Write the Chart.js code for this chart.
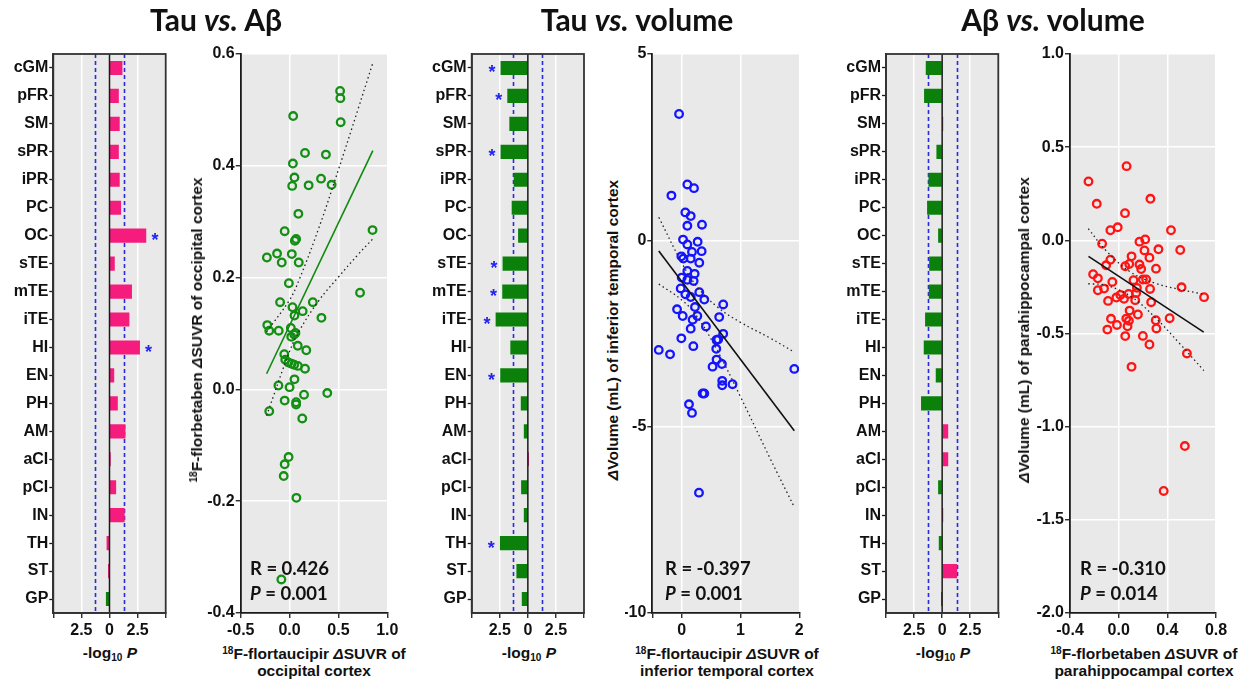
<!DOCTYPE html>
<html><head><meta charset="utf-8">
<script src="https://cdn.jsdelivr.net/npm/chart.js"></script>
<style>
body{margin:0;background:#fff;width:1251px;height:683px;overflow:hidden;position:relative;font-family:'Liberation Sans',Arial,sans-serif;}
canvas{position:absolute;top:0;}
.t{position:absolute;font-weight:bold;white-space:nowrap;color:#111;}
.title{font-family:Lato,'Open Sans',sans-serif;font-size:30px;line-height:34px;top:2px;transform:translateX(-50%);}
.yl{font-size:15.5px;transform:translate(-50%,-50%) rotate(-90deg);}
.xl{font-size:15.5px;line-height:17px;transform:translateX(-50%);text-align:center;}
.rp{font-family:Lato,'Open Sans',sans-serif;font-size:18.5px;line-height:25px;}
sup{font-size:0.65em;vertical-align:0.5em;line-height:0;}
sub{font-size:0.65em;vertical-align:-0.25em;line-height:0;}
</style></head>
<body>
<canvas id="c1"></canvas><canvas id="c2"></canvas><canvas id="c3"></canvas>
<canvas id="c4"></canvas><canvas id="c5"></canvas><canvas id="c6"></canvas>

<div class="t title" style="left:216px">Tau <i>vs.</i> Aβ</div>
<div class="t title" style="left:637px">Tau <i>vs.</i> volume</div>
<div class="t title" style="left:1053px">Aβ <i>vs.</i> volume</div>

<div class="t yl" style="left:197px;top:330px"><sup>18</sup>F-florbetaben <i>Δ</i>SUVR of occipital cortex</div>
<div class="t yl" style="left:613px;top:330px"><i>Δ</i>Volume (mL) of inferior temporal cortex</div>
<div class="t yl" style="left:1024px;top:330px"><i>Δ</i>Volume (mL) of parahippocampal cortex</div>

<div class="t xl" style="left:314px;top:645px"><sup>18</sup>F-flortaucipir <i>Δ</i>SUVR of<br>occipital cortex</div>
<div class="t xl" style="left:727px;top:645px"><sup>18</sup>F-flortaucipir <i>Δ</i>SUVR of<br>inferior temporal cortex</div>
<div class="t xl" style="left:1144px;top:645px"><sup>18</sup>F-florbetaben <i>Δ</i>SUVR of<br>parahippocampal cortex</div>

<div class="t xl" style="left:110px;top:644px">-log<sub>10</sub> <i>P</i></div>
<div class="t xl" style="left:529px;top:644px">-log<sub>10</sub> <i>P</i></div>
<div class="t xl" style="left:943px;top:644px">-log<sub>10</sub> <i>P</i></div>

<div class="t rp" style="left:250px;top:556px">R = 0.426<br><i>P</i> = 0.001</div>
<div class="t rp" style="left:665px;top:556px">R = -0.397<br><i>P</i> = 0.001</div>
<div class="t rp" style="left:1080px;top:556px">R = -0.310<br><i>P</i> = 0.014</div>

<script>
// ---------- DATA ----------
const regions = ['cGM','pFR','SM','sPR','iPR','PC','OC','sTE','mTE','iTE','HI','EN','PH','AM','aCI','pCI','IN','TH','ST','GP'];
const barTickValues = [-5, -2.5, 0, 2.5, 5];
const barTickLabels = ['', '2.5', '0', '2.5', ''];
const sigThreshold = 1.3;

// Tau vs. Abeta (signed -log10 P), colour group, significance flag
const tauAbLogP = [1.12,0.80,0.88,0.80,0.88,1.00,3.24,0.44,1.97,1.74,2.68,0.39,0.71,1.39,0.08,0.56,1.32,-0.23,-0.10,-0.29];
const tauAbGroup = ['pos','pos','pos','pos','pos','pos','pos','pos','pos','pos','pos','pos','pos','pos','pos','pos','pos','pos','pos','neg'];
const tauAbSig = [0,0,0,0,0,0,1,0,0,0,1,0,0,0,0,0,0,0,0,0];

// Tau vs. volume
const tauVolLogP = [-2.40,-1.80,-1.62,-2.40,-1.23,-1.41,-0.84,-2.22,-2.25,-2.84,-1.53,-2.43,-0.60,-0.33,0.02,-0.57,-0.33,-2.46,-0.99,-0.51];
const tauVolGroup = ['neg','neg','neg','neg','neg','neg','neg','neg','neg','neg','neg','neg','neg','neg','pos','neg','neg','neg','neg','neg'];
const tauVolSig = [1,1,0,1,0,0,0,1,1,1,0,1,0,0,0,0,0,1,0,0];

// Abeta vs. volume
const abVolLogP = [-1.43,-1.58,0.03,-0.48,-1.19,-1.31,-0.33,-1.13,-1.16,-1.49,-1.61,-0.54,-1.85,0.51,0.51,-0.33,0.03,-0.27,1.31,-0.03];
const abVolGroup = ['neg','neg','pos','neg','neg','neg','neg','neg','neg','neg','neg','neg','neg','pos','pos','neg','pos','neg','pos','neg'];
const abVolSig = [0,0,0,0,0,0,0,0,0,0,0,0,0,0,0,0,0,0,0,0];

// Scatter 1: flortaucipir dSUVR OC (x) vs florbetaben dSUVR OC (y)
const ocTauX = [0.517,0.52,0.037,0.523,0.158,0.372,0.034,0.05,0.322,0.027,0.195,0.43,0.09,-0.05,0.849,0.067,0.054,-0.232,-0.128,0.023,-0.08,0.094,-0.007,0.721,-0.097,0.03,0.238,0.134,0.05,0.326,-0.228,-0.208,-0.111,0.013,0.017,0.06,0.047,0.084,0.171,-0.054,-0.044,-0.012,0.02,0.047,0.085,0.158,0.05,-0.114,0.0,-0.05,0.067,0.067,0.148,0.386,0.13,-0.208,-0.01,-0.05,-0.06,0.07,-0.084];
const ocAbY = [0.534,0.521,0.489,0.478,0.423,0.42,0.404,0.379,0.377,0.364,0.365,0.366,0.314,0.283,0.285,0.269,0.266,0.236,0.243,0.242,0.227,0.227,0.19,0.173,0.156,0.147,0.156,0.14,0.132,0.128,0.115,0.105,0.105,0.11,0.094,0.101,0.098,0.078,0.07,0.063,0.053,0.048,0.046,0.044,0.042,0.037,0.018,0.007,0.004,-0.02,-0.023,-0.027,-0.0095,-0.0065,-0.052,-0.039,-0.121,-0.134,-0.155,-0.194,-0.34];
const ocFitX = [-0.235, 0.852];
const ocFitY = [0.028, 0.427];
const ocBandX = [-0.235, 0, 0.1, 0.3, 0.5, 0.7, 0.85];
const ocBandUp = [0.103, 0.16, 0.197, 0.289, 0.393, 0.501, 0.583];
const ocBandLo = [-0.047, 0.068, 0.105, 0.159, 0.201, 0.241, 0.269];
const ocXTicks = [-0.5, 0, 0.5, 1.0];
const ocYTicks = [-0.4, -0.2, 0, 0.2, 0.4, 0.6];

// Scatter 2: flortaucipir dSUVR iTE (x) vs dVolume iTE (y)
const iteTauX = [-0.045,0.096,0.209,-0.175,0.062,0.153,0.096,0.345,0.023,0.096,0.271,0.339,-0.006,0.028,0.175,0.153,0.299,0.096,0.22,0,0.096,0.203,-0.017,0.062,0.153,0.299,0.384,0.706,-0.079,0.017,0.226,0.266,0.186,0.638,0.412,0.153,0.706,-0.006,0.593,0.62,0.198,-0.39,-0.198,0.588,0.593,0.684,0.525,1.915,0.689,0.689,0.864,0.356,0.384,0.124,0.175,0.294];
const iteVolY = [3.39,1.5,1.4,1.2,0.75,0.65,0.39,0.42,0.02,-0.11,-0.04,-0.29,-0.43,-0.49,-0.31,-0.49,-0.6,-0.82,-0.9,-1.0,-1.06,-1.09,-1.29,-1.45,-1.52,-1.39,-1.59,-1.72,-1.85,-2.03,-1.79,-2.03,-2.13,-2.06,-2.31,-2.37,-2.51,-2.63,-2.67,-2.66,-2.84,-2.94,-3.06,-2.91,-3.2,-3.32,-3.39,-3.45,-3.77,-3.89,-3.86,-4.11,-4.11,-4.4,-4.63,-6.77];
const iteFitX = [-0.39, 1.915];
const iteFitY = [-0.287, -5.11];
const iteBandX = [-0.39, 0, 0.25, 0.6, 1.0, 1.5, 1.915];
const iteBandUp = [0.62, -0.6, -1.22, -1.78, -2.2, -2.62, -3.0];
const iteBandLo = [-1.17, -1.6, -2.02, -2.94, -4.2, -5.84, -7.16];
const iteXTicks = [-0.5, 0, 1, 2];
const iteXLabels = ['', '0', '1', '2'];
const iteYTicks = [-10, -5, 0, 5];

// Scatter 3: florbetaben dSUVR PH (x) vs dVolume PH (y)
const phAbX = [0.065,-0.248,-0.18,0.261,0.052,-0.008,-0.068,0.43,0.506,-0.136,0.171,0.218,0.212,0.327,0.253,0.106,-0.068,-0.103,0.054,0.087,0.171,0.185,0.307,-0.21,-0.171,-0.052,0.122,0.199,0.226,-0.171,-0.12,0.258,0.517,0.702,0.15,0.082,0.014,-0.019,0.044,0.144,0.136,-0.087,0.267,0.09,0.158,-0.063,0.063,0.084,0.305,0.419,-0.014,0.31,-0.093,0.073,0.054,0.199,0.253,0.561,0.106,0.544,0.37];
const phVolY = [0.398,0.316,0.196,0.223,0.146,0.07,0.054,0.054,-0.052,-0.018,-0.007,0.005,-0.054,-0.048,-0.093,-0.086,-0.104,-0.134,-0.139,-0.127,-0.13,-0.154,-0.152,-0.182,-0.204,-0.223,-0.214,-0.21,-0.21,-0.268,-0.259,-0.261,-0.252,-0.305,-0.255,-0.288,-0.293,-0.307,-0.314,-0.282,-0.321,-0.325,-0.332,-0.377,-0.398,-0.421,-0.42,-0.432,-0.429,-0.418,-0.454,-0.473,-0.479,-0.461,-0.514,-0.513,-0.559,-0.607,-0.679,-1.104,-1.345];
const phFitX = [-0.248, 0.699];
const phFitY = [-0.086, -0.493];
const phBandX = [-0.25, -0.1, 0.1, 0.3, 0.5, 0.7];
const phBandUp = [0.063, -0.058, -0.171, -0.23, -0.263, -0.289];
const phBandLo = [-0.233, -0.242, -0.301, -0.414, -0.553, -0.699];
const phXTicks = [-0.4, 0, 0.4, 0.8];
const phYTicks = [-2.0, -1.5, -1.0, -0.5, 0, 0.5, 1.0];

// ---------- STYLE ----------
const PINK = '#f51c7e', GREEN = '#0b800b', BLUE_PT = '#1414ff', RED_PT = '#ff1414';
const BG = '#e9e9e9', AXIS = '#1a1a1a';
const CH_TOP = 54, CV_H = 640, X_AXIS_H = 27;

Chart.defaults.font.family = "'Liberation Sans', Arial, sans-serif";
Chart.defaults.font.size = 16;
Chart.defaults.font.weight = 'bold';
Chart.defaults.color = '#111';

const zip = (xs, ys) => xs.map((x, i) => ({x, y: ys[i]}));

function setupCanvas(id, left, width) {
  const cv = document.getElementById(id);
  cv.width = width; cv.height = CV_H;
  cv.style.left = left + 'px';
  cv.style.width = width + 'px'; cv.style.height = CV_H + 'px';
  return cv;
}

function barChart(id, cvLeft, cvW, chartL, chartR, values, groups, sig) {
  const cv = setupCanvas(id, cvLeft, cvW);
  const deco = {
    id: 'barDeco',
    beforeDraw(chart) {
      const a = chart.chartArea, c = chart.ctx;
      c.save(); c.fillStyle = BG; c.fillRect(a.left, a.top, a.right - a.left, a.bottom - a.top); c.restore();
    },
    beforeDatasetsDraw(chart) {
      const a = chart.chartArea, c = chart.ctx, xs = chart.scales.x;
      c.save(); c.strokeStyle = '#2a2ae0'; c.lineWidth = 1.6; c.setLineDash([4, 3]);
      [-sigThreshold, sigThreshold].forEach(v => {
        const px = Math.round(xs.getPixelForValue(v)) + 0.5;
        c.beginPath(); c.moveTo(px, a.top); c.lineTo(px, a.bottom); c.stroke();
      });
      c.restore();
    },
    afterDatasetsDraw(chart) {
      const a = chart.chartArea, c = chart.ctx, xs = chart.scales.x, ys = chart.scales.y;
      c.save();
      c.strokeStyle = AXIS; c.lineWidth = 1.5;
      const z = xs.getPixelForValue(0);
      c.beginPath(); c.moveTo(z, a.top); c.lineTo(z, a.bottom); c.stroke();
      c.strokeStyle = '#333'; c.lineWidth = 1.8;
      c.strokeRect(a.left, a.top, a.right - a.left, a.bottom - a.top);
      c.fillStyle = '#2323f0'; c.font = "bold 18px 'Liberation Sans', Arial, sans-serif";
      c.textAlign = 'center'; c.textBaseline = 'alphabetic';
      sig.forEach((s, i) => {
        if (!s) return;
        const v = values[i];
        const px = xs.getPixelForValue(v) + (v >= 0 ? 9 : -9);
        const py = ys.getPixelForValue(i) + 10.5;
        c.fillText('*', px, py);
      });
      c.restore();
    }
  };
  return new Chart(cv, {
    type: 'bar',
    data: { labels: regions, datasets: [{ data: values,
      backgroundColor: groups.map(g => g === 'pos' ? PINK : GREEN), borderWidth: 0, barThickness: 13.5 }] },
    options: {
      indexAxis: 'y', responsive: false, animation: false, events: [],
      layout: { padding: { top: CH_TOP, left: 0, bottom: 0, right: cvW - (chartR - cvLeft) } },
      plugins: { legend: { display: false }, tooltip: { enabled: false } },
      scales: {
        x: { type: 'linear', min: -5, max: 5,
          afterBuildTicks: s => { s.ticks = barTickValues.map(v => ({ value: v })); },
          ticks: { callback: (v, i) => barTickLabels[i], autoSkip: false, maxRotation: 0, padding: 3 },
          grid: { color: c => Math.abs(c.tick.value) === 2.5 ? '#ffffff' : 'rgba(0,0,0,0)', lineWidth: 1.5,
                  tickColor: AXIS, tickLength: 5, tickWidth: 1.3 },
          border: { display: true, color: '#333', width: 1.8 },
          afterFit: s => { s.height = X_AXIS_H; } },
        y: { grid: { offset: false, drawOnChartArea: false, tickColor: AXIS, tickLength: 4, tickWidth: 1.3 },
          border: { display: true, color: '#333', width: 1.8 },
          ticks: { autoSkip: false, padding: 1 },
          afterFit: s => { s.width = chartL - cvLeft; } }
      }
    },
    plugins: [deco]
  });
}

function scatterChart(id, cvLeft, cvW, chartL, chartR, xs, ys, fitX, fitY, fitColor, bandX, bandUp, bandLo,
                      ptColor, xTicks, xLabels, yTicks, yLabels) {
  const cv = setupCanvas(id, cvLeft, cvW);
  const bg = { id: 'bg', beforeDraw(chart) {
    const a = chart.chartArea, c = chart.ctx;
    c.save(); c.fillStyle = BG; c.fillRect(a.left, a.top, a.right - a.left, a.bottom - a.top); c.restore();
  } };
  const xMin = xTicks[0], yMin = yTicks[0];
  return new Chart(cv, {
    type: 'scatter',
    data: { datasets: [
      { data: zip(fitX, fitY), showLine: true, borderColor: fitColor, borderWidth: 1.6, pointRadius: 0 },
      { data: zip(bandX, bandUp), showLine: true, borderColor: '#222', borderWidth: 1.3, borderDash: [1.5, 3], pointRadius: 0, tension: 0.4 },
      { data: zip(bandX, bandLo), showLine: true, borderColor: '#222', borderWidth: 1.3, borderDash: [1.5, 3], pointRadius: 0, tension: 0.4 },
      { data: zip(xs, ys), pointRadius: 3.8, pointBorderWidth: 2.3, borderColor: ptColor, pointBorderColor: ptColor,
        backgroundColor: 'rgba(0,0,0,0)', pointBackgroundColor: 'rgba(0,0,0,0)' }
    ] },
    options: {
      responsive: false, animation: false, events: [],
      layout: { padding: { top: CH_TOP, left: 0, bottom: 0, right: cvW - (chartR - cvLeft) } },
      plugins: { legend: { display: false }, tooltip: { enabled: false } },
      scales: {
        x: { type: 'linear', min: xTicks[0], max: xTicks[xTicks.length - 1],
          afterBuildTicks: s => { s.ticks = xTicks.map(v => ({ value: v })); },
          ticks: { callback: (v, i) => xLabels[i], autoSkip: false, maxRotation: 0, padding: 3 },
          grid: { color: c => c.tick.value === xMin ? 'rgba(0,0,0,0)' : '#ffffff', lineWidth: 1.5,
                  tickColor: AXIS, tickLength: 5, tickWidth: 1.3 },
          border: { display: true, color: AXIS, width: 1.8 },
          afterFit: s => { s.height = X_AXIS_H; } },
        y: { type: 'linear', min: yTicks[0], max: yTicks[yTicks.length - 1],
          afterBuildTicks: s => { s.ticks = yTicks.map(v => ({ value: v })); },
          ticks: { callback: (v, i) => yLabels[i], autoSkip: false, padding: 1 },
          grid: { color: c => c.tick.value === yMin ? 'rgba(0,0,0,0)' : '#ffffff', lineWidth: 1.5,
                  tickColor: AXIS, tickLength: 5, tickWidth: 1.3 },
          border: { display: true, color: AXIS, width: 1.8 },
          afterFit: s => { s.width = chartL - cvLeft; } }
      }
    },
    plugins: [bg]
  });
}

const fmt1 = v => v.toFixed(1);

barChart('c1', 0, 182, 53.3, 165.7, tauAbLogP, tauAbGroup, tauAbSig);
scatterChart('c2', 195, 210, 240.7, 387.3, ocTauX, ocAbY, ocFitX, ocFitY, '#0f8a0f', ocBandX, ocBandUp, ocBandLo,
             '#138f13', ocXTicks, ocXTicks.map(fmt1), ocYTicks, ocYTicks.map(fmt1));
barChart('c3', 415, 186, 471.7, 584, tauVolLogP, tauVolGroup, tauVolSig);
scatterChart('c4', 625, 192, 652.3, 799.3, iteTauX, iteVolY, iteFitX, iteFitY, '#111', iteBandX, iteBandUp, iteBandLo,
             BLUE_PT, iteXTicks, iteXLabels, iteYTicks, iteYTicks.map(v => String(v)));
barChart('c5', 830, 186, 886, 998.3, abVolLogP, abVolGroup, abVolSig);
scatterChart('c6', 1030, 221, 1070, 1216, phAbX, phVolY, phFitX, phFitY, '#111', phBandX, phBandUp, phBandLo,
             RED_PT, phXTicks, phXTicks.map(fmt1), phYTicks, phYTicks.map(fmt1));
</script>
</body></html>
